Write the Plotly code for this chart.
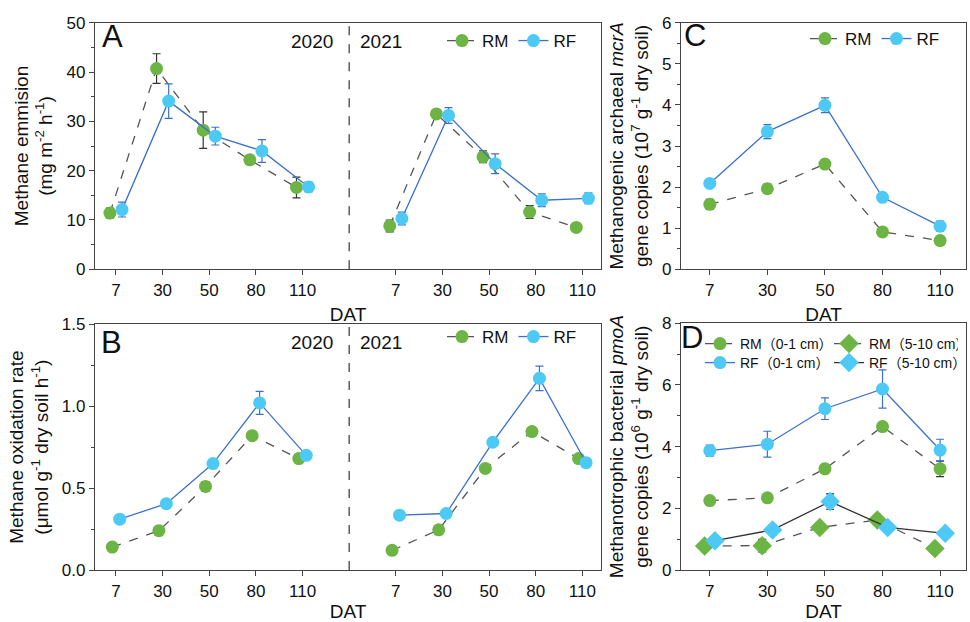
import plotly.graph_objects as go

DAT = ["7", "30", "50", "80", "110"]
YEARS = ["2020", "2021"]

# Panel A: methane emission (mg m-2 h-1)
A_RM_2020 = [11.4, 40.7, 28.2, 22.2, 16.6]
A_RM_2020_err = [1.0, 3.0, 3.7, 0.9, 2.1]
A_RF_2020 = [12.1, 34.1, 27.0, 24.0, 16.7]
A_RF_2020_err = [1.5, 3.5, 1.8, 2.3, 1.0]
A_RM_2021 = [8.8, 31.5, 22.8, 11.6, 8.5]
A_RM_2021_err = [1.2, 0.7, 1.2, 1.3, 0.6]
A_RF_2021 = [10.3, 31.2, 21.4, 14.0, 14.4]
A_RF_2021_err = [1.3, 1.6, 2.0, 1.3, 1.1]

# Panel B: methane oxidation rate
B_RM_2020 = [0.14, 0.24, 0.51, 0.82, 0.68]
B_RM_2020_err = [0.02, 0.025, 0.03, 0.02, 0.02]
B_RF_2020 = [0.31, 0.405, 0.65, 1.02, 0.70]
B_RF_2020_err = [0.02, 0.02, 0.02, 0.07, 0.025]
B_RM_2021 = [0.12, 0.245, 0.62, 0.845, 0.68]
B_RM_2021_err = [0.02, 0.02, 0.02, 0.02, 0.02]
B_RF_2021 = [0.335, 0.345, 0.78, 1.17, 0.655]
B_RF_2021_err = [0.02, 0.02, 0.02, 0.075, 0.02]

# Panel C: mcrA gene copies (10^7 g-1)
C_RM = [1.58, 1.96, 2.56, 0.91, 0.70]
C_RM_err = [0.12, 0.11, 0.07, 0.06, 0.07]
C_RF = [2.09, 3.35, 3.99, 1.75, 1.05]
C_RF_err = [0.07, 0.17, 0.18, 0.08, 0.12]

# Panel D: pmoA gene copies (10^6 g-1)
D_RM01 = [2.25, 2.34, 3.28, 4.65, 3.28]
D_RM01_err = [0.12, 0.10, 0.15, 0.12, 0.25]
D_RF01 = [3.87, 4.08, 5.23, 5.87, 3.89]
D_RF01_err = [0.18, 0.42, 0.35, 0.62, 0.35]
D_RM510 = [0.78, 0.79, 1.38, 1.62, 0.70]
D_RM510_err = [0.10, 0.20, 0.12, 0.10, 0.10]
D_RF510 = [0.95, 1.30, 2.22, 1.38, 1.19]
D_RF510_err = [0.10, 0.15, 0.25, 0.10, 0.15]

GREEN = "#6cb444"
BLUE = "#4dc9f6"
BLUE_LINE = "#3b72c9"
GRAY = "#555555"
DARK = "#333333"
FONT = "Liberation Sans, Arial, Noto Sans CJK SC, sans-serif"

fig = go.Figure()

idx = list(range(1, len(DAT) + 1))


def pos(offset, base=0):
    return [i + base + offset for i in idx]


def add(x, y, err, xa, ya, name, mcolor, lcolor, dash, ecolor, symbol="circle",
        legend="legend", showlegend=True, size=13, lw=1.3):
    fig.add_trace(go.Scatter(
        x=x, y=y, xaxis=xa, yaxis=ya, name=name, legend=legend,
        showlegend=showlegend, legendgroup=legend + name,
        mode="lines+markers",
        line=dict(color=lcolor, width=lw, dash=dash),
        marker=dict(color=mcolor, size=size, symbol=symbol, line=dict(width=0)),
        error_y=dict(type="data", array=err, color=ecolor, thickness=1.2, width=4),
    ))


# Panel A
offA = 0.13
add(pos(-offA), A_RM_2020, A_RM_2020_err, "x", "y", "RM", GREEN, GRAY, "dash", DARK)
add(pos(offA), A_RF_2020, A_RF_2020_err, "x", "y", "RF", BLUE, BLUE_LINE, "solid", BLUE_LINE)
add(pos(-offA, 6), A_RM_2021, A_RM_2021_err, "x", "y", "RM", GREEN, GRAY, "dash", DARK, showlegend=False)
add(pos(offA, 6), A_RF_2021, A_RF_2021_err, "x", "y", "RF", BLUE, BLUE_LINE, "solid", BLUE_LINE, showlegend=False)

# Panel B
offB = 0.08
add(pos(-offB), B_RM_2020, B_RM_2020_err, "x2", "y2", "RM", GREEN, GRAY, "dash", DARK, legend="legend2")
add(pos(offB), B_RF_2020, B_RF_2020_err, "x2", "y2", "RF", BLUE, BLUE_LINE, "solid", BLUE_LINE, legend="legend2")
add(pos(-offB, 6), B_RM_2021, B_RM_2021_err, "x2", "y2", "RM", GREEN, GRAY, "dash", DARK, legend="legend2", showlegend=False)
add(pos(offB, 6), B_RF_2021, B_RF_2021_err, "x2", "y2", "RF", BLUE, BLUE_LINE, "solid", BLUE_LINE, legend="legend2", showlegend=False)

# Panel C
add(pos(0), C_RM, C_RM_err, "x3", "y3", "RM", GREEN, GRAY, "dash", DARK, legend="legend3")
add(pos(0), C_RF, C_RF_err, "x3", "y3", "RF", BLUE, BLUE_LINE, "solid", BLUE_LINE, legend="legend3")

# Panel D
offD = 0.09
add(pos(0), D_RM01, D_RM01_err, "x4", "y4", "RM（0-1 cm）", GREEN, GRAY, "dash", DARK, legend="legend4")
add(pos(-offD), D_RM510, D_RM510_err, "x4", "y4", "RM（5-10 cm）", GREEN, GRAY, "dash", "#222222",
    symbol="diamond", legend="legend4", size=15)
add(pos(0), D_RF01, D_RF01_err, "x4", "y4", "RF（0-1 cm）", BLUE, BLUE_LINE, "solid", BLUE_LINE, legend="legend5")
add(pos(offD), D_RF510, D_RF510_err, "x4", "y4", "RF（5-10 cm）", BLUE, DARK, "solid", "#222222",
    symbol="diamond", legend="legend5", size=15)

W, H = 970, 622
xAB = [95 / W, 601 / W]
xCD = [681 / W, 966 / W]
yAC = [(H - 269.3) / H, (H - 22.7) / H]
yB = [(H - 570) / H, (H - 324.3) / H]
yD = [(H - 570) / H, (H - 323.3) / H]

tickfont = dict(family=FONT, size=17, color="#111")
titlefont = dict(family=FONT, size=19, color="#111")


def xax(domain, anchor, tickvals, ticktext, rng):
    return dict(domain=domain, anchor=anchor, range=rng, tickmode="array",
                tickvals=tickvals, ticktext=ticktext, ticks="outside", ticklen=5,
                tickcolor="#444", showline=True, linecolor="#444", linewidth=1.2,
                mirror=True, showgrid=False, zeroline=False, tickfont=tickfont,
                automargin=False,
                title=dict(text="DAT", font=titlefont, standoff=8))


def yax(domain, anchor, rng, dtick, title, fmt=None):
    d = dict(domain=domain, anchor=anchor, range=rng, dtick=dtick, tick0=0,
             ticks="outside", ticklen=5, tickcolor="#444", showline=True,
             linecolor="#444", linewidth=1.2, mirror=True, showgrid=False,
             zeroline=False, tickfont=tickfont, automargin=False,
             minor=dict(ticks="outside", ticklen=3, dtick=dtick / 2, tickcolor="#444", showgrid=False),
             title=dict(text=title, font=titlefont, standoff=8))
    if fmt:
        d["tickformat"] = fmt
    return d


ab_vals = idx + [i + 6 for i in idx]
ab_text = DAT + DAT

legend_common = dict(orientation="h", bgcolor="rgba(0,0,0,0)", borderwidth=0,
                     font=dict(family=FONT, size=17, color="#111"),
                     itemwidth=30, tracegroupgap=0)
legD = dict(orientation="h", bgcolor="rgba(0,0,0,0)", borderwidth=0,
            font=dict(family=FONT, size=14, color="#111"),
            itemwidth=30, entrywidth=84, entrywidthmode="pixels", tracegroupgap=0)

fig.update_layout(
    width=W, height=H,
    margin=dict(l=0, r=0, t=0, b=0, autoexpand=False),
    paper_bgcolor="white", plot_bgcolor="white",
    font=dict(family=FONT, color="#111"),
    xaxis=xax(xAB, "y", ab_vals, ab_text, [0.55, 11.4]),
    yaxis=yax(yAC, "x", [0, 50], 10, "Methane emmision<br>(mg m<sup>-2</sup> h<sup>-1</sup>)"),
    xaxis2=xax(xAB, "y2", ab_vals, ab_text, [0.55, 11.4]),
    yaxis2=yax(yB, "x2", [0, 1.5], 0.5,
               "Methane oxidation rate<br>(μmol g<sup>-1</sup> dry soil h<sup>-1</sup>)", fmt=".1f"),
    xaxis3=xax(xCD, "y3", idx, DAT, [0.5, 5.45]),
    yaxis3=yax(yAC, "x3", [0, 6], 1,
               "Methanogenic archaeal <i>mcrA</i><br>gene copies (10<sup>7</sup> g<sup>-1</sup> dry soil)"),
    xaxis4=xax(xCD, "y4", idx, DAT, [0.5, 5.45]),
    yaxis4=yax(yD, "x4", [0, 8], 2,
               "Methanotrophic bacterial <i>pmoA</i><br>gene copies (10<sup>6</sup> g<sup>-1</sup> dry soil)"),
    legend=dict(legend_common, x=442 / W, xanchor="left", y=(H - 41) / H, yanchor="middle"),
    legend2=dict(legend_common, x=442 / W, xanchor="left", y=(H - 337) / H, yanchor="middle"),
    legend3=dict(legend_common, x=805 / W, xanchor="left", y=(H - 39) / H, yanchor="middle"),
    legend4=dict(legD, x=700 / W, xanchor="left", y=(H - 344) / H, yanchor="middle"),
    legend5=dict(legD, x=700 / W, xanchor="left", y=(H - 363) / H, yanchor="middle"),
)

# dashed separators between years
for ya in ["y", "y2"]:
    xa = "x" if ya == "y" else "x2"
    fig.add_shape(type="line", xref=xa, yref=ya + " domain", x0=6, x1=6, y0=0, y1=1,
                  line=dict(color="#333", width=1.2, dash="dash"))

ann = []
for letter, (px, py) in zip(["A", "B", "C", "D"], [(112, 37), (111, 342), (695, 36), (692, 337)]):
    ann.append(dict(text=letter, x=px / W, y=(H - py) / H, xref="paper", yref="paper",
                    showarrow=False, font=dict(family=FONT, size=31, color="#111"),
                    xanchor="center", yanchor="middle"))
for (txt, px, py) in [(YEARS[0], 312, 42), (YEARS[1], 381, 42), (YEARS[0], 312, 343), (YEARS[1], 381, 342)]:
    ann.append(dict(text=txt, x=px / W, y=(H - py) / H, xref="paper", yref="paper",
                    showarrow=False, font=dict(family=FONT, size=19, color="#111"),
                    xanchor="center", yanchor="middle"))
fig.update_layout(annotations=ann)

fig.write_html("out.html")
